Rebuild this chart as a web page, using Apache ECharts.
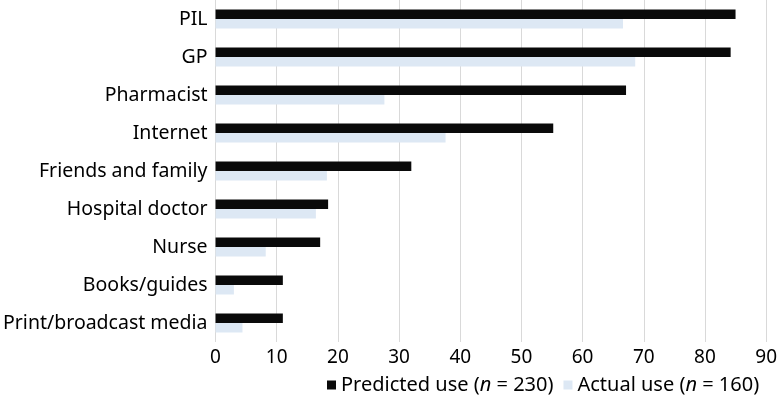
<!DOCTYPE html>
<html>
<head>
<meta charset="utf-8">
<script src="https://cdn.jsdelivr.net/npm/echarts@6/dist/echarts.min.js"></script>
<style>
  html, body { margin: 0; padding: 0; background: #fff; }
  #main { width: 780px; height: 406px; }
</style>
</head>
<body>
<div id="main"></div>
<script>
// sources of information, top to bottom
var categories = ['PIL', 'GP', 'Pharmacist', 'Internet', 'Friends and family',
  'Hospital doctor', 'Nurse', 'Books/guides', 'Print/broadcast media'];
var predicted = [85.0, 84.2, 67.1, 55.2, 32.0, 18.4, 17.1, 11.0, 11.0];
var actual = [66.6, 68.6, 27.6, 37.6, 18.2, 16.4, 8.2, 3.0, 4.4];
var xTicks = { min: 0, max: 90, interval: 10 };

var font = 'Noto Sans';
var chart = echarts.init(document.getElementById('main'));
chart.setOption({
  animation: false,
  textStyle: { fontFamily: font },
  grid: { left: 214, right: 13, top: 0, bottom: 64, containLabel: false },
  legend: {
    left: 322,
    bottom: 6,
    itemWidth: 9,
    itemHeight: 9,
    itemGap: 10,
    icon: 'rect',
    formatter: function (name) {
      if (name === 'Predicted use') return '{a|Predicted use (}{i|n}{a| = 230)}';
      return '{a|Actual use (}{i|n}{a| = 160)}';
    },
    textStyle: {
      rich: {
        a: { fontSize: 20, color: '#000', fontFamily: font },
        i: { fontSize: 20, color: '#000', fontStyle: 'italic', fontFamily: font }
      }
    }
  },
  xAxis: {
    type: 'value',
    min: xTicks.min,
    max: xTicks.max,
    interval: xTicks.interval,
    axisLine: { show: false },
    axisTick: { show: false },
    axisLabel: { fontSize: 19, color: '#000', margin: 6 },
    splitLine: { lineStyle: { color: '#d9d9d9', width: 1 } }
  },
  yAxis: {
    type: 'category',
    inverse: true,
    data: categories,
    axisLine: { show: false },
    axisTick: { show: false },
    axisLabel: { fontSize: 19.5, color: '#000', margin: 8 }
  },
  series: [
    {
      name: 'Predicted use',
      type: 'bar',
      data: predicted,
      barGap: '0%',
      barCategoryGap: '50%',
      itemStyle: { color: '#0a0a0a' }
    },
    {
      name: 'Actual use',
      type: 'bar',
      data: actual,
      itemStyle: { color: '#dde8f4' }
    }
  ]
});
</script>
</body>
</html>
